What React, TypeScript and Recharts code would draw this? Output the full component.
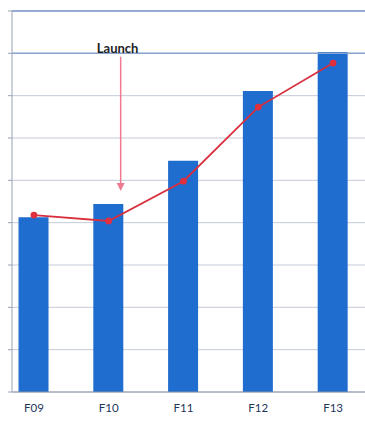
import React from 'react'
import {
  Bar,
  CartesianGrid,
  ComposedChart,
  Line,
  ReferenceLine,
  XAxis,
  YAxis
} from 'recharts'

const categories = ['F09', 'F10', 'F11', 'F12', 'F13']
const barValues = [4.13, 4.44, 5.46, 7.11, 8.03]
const lineValues = [4.18, 4.04, 4.98, 6.73, 7.77]
const yTicks = [0, 1, 2, 3, 4, 5, 6, 7, 8, 9]

// launch arrow, in data units (x = category index)
const launchX = 1.16
const launchFrom = 7.92
const launchTo = 4.75

const data = categories.map((c, i) => ({
  idx: i,
  name: c,
  bar: barValues[i],
  line: lineValues[i]
}))

const LaunchArrow = (props: any) => {
  const { x1, y1, x2, y2 } = props
  const c = '#f07a92'
  return (
    <g>
      <text
        x={x1 - 3}
        y={y1 - 4}
        textAnchor="middle"
        fontFamily="Lato, 'Open Sans', sans-serif"
        fontWeight={700}
        fontSize={13}
        fill="#1e1e1e"
      >
        Launch
      </text>
      <line x1={x1} y1={y1} x2={x2} y2={y2 - 6} stroke={c} strokeWidth={1.5} />
      <polygon points={`${x2 - 4},${y2 - 8} ${x2 + 4},${y2 - 8} ${x2},${y2}`} fill={c} />
    </g>
  )
}

export default function App() {
  return (
    <div style={{ position: 'absolute', left: 0, top: 0, width: 365, height: 440, background: '#fff' }}>
      <ComposedChart
        width={365}
        height={440}
        data={data}
        margin={{ top: 11, right: 0, bottom: 28, left: 8 }}
      >
        <CartesianGrid stroke="#c4cbd8" vertical={false} />
        <XAxis
          type="number"
          dataKey="idx"
          height={20}
          domain={[-0.293, 4.427]}
          ticks={[0, 1, 2, 3, 4]}
          allowDataOverflow
          tickFormatter={(v) => categories[v] ?? ''}
          axisLine={{ stroke: '#8a93a6' }}
          tickLine={false}
          tick={{ fill: '#22365a', fontSize: 11.5, fontFamily: 'Lato, sans-serif' }}
          dy={4}
        />
        <YAxis
          domain={[0, 9]}
          ticks={yTicks}
          width={4}
          tick={() => <g />}
          tickSize={4}
          axisLine={{ stroke: '#9aa2b2' }}
          tickLine={{ stroke: '#9aa2b2' }}
        />
        <ReferenceLine y={9} stroke="#7b97c9" strokeWidth={1.5} />
        <ReferenceLine y={8} stroke="#8aa3cf" strokeWidth={1.5} />
        <Bar dataKey="bar" fill="#1f6dcf" barSize={30} isAnimationActive={false} />
        <Line
          dataKey="line"
          stroke="#d8303e"
          strokeWidth={1.8}
          dot={{ r: 2.5, fill: '#e0303e', stroke: '#e0303e' }}
          isAnimationActive={false}
        />
        <ReferenceLine
          segment={[
            { x: launchX, y: launchFrom },
            { x: launchX, y: launchTo }
          ]}
          shape={LaunchArrow}
          ifOverflow="visible"
        />
      </ComposedChart>
    </div>
  )
}
